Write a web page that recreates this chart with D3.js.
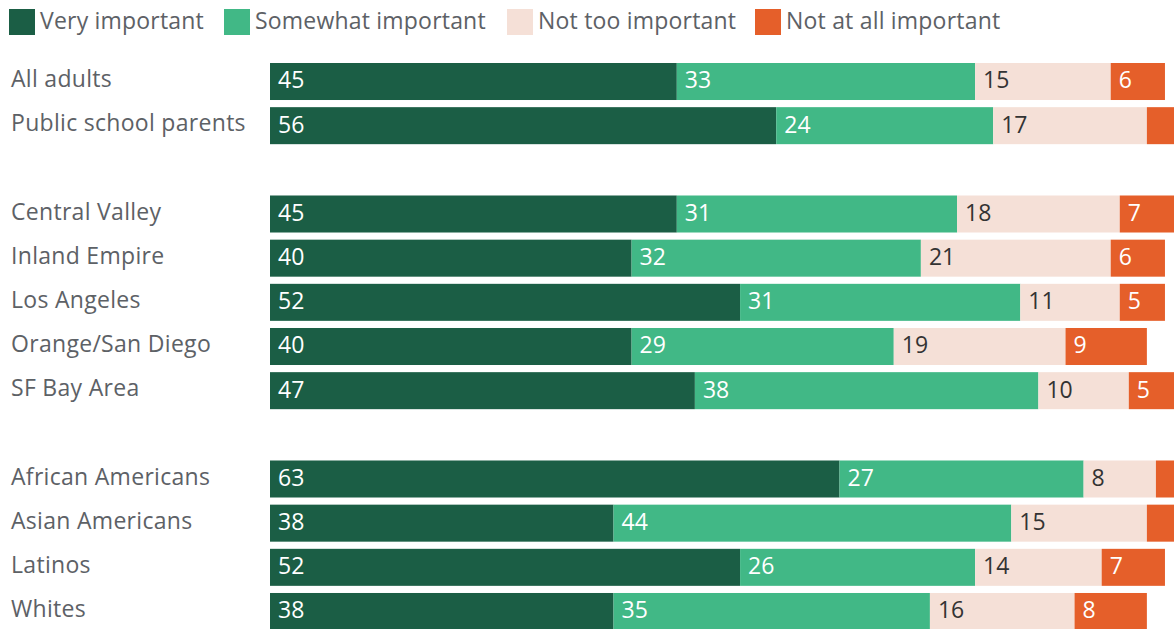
<!DOCTYPE html>
<html>
<head>
<meta charset="utf-8">
<script src="https://cdn.jsdelivr.net/npm/d3@7"></script>
<style>
  body { margin: 0; background: #fff; }
  svg { display: block; font-family: "Open Sans", Lato, sans-serif; }
  .row-label { fill: #5d6166; font-size: 23px; letter-spacing: 0.3px; }
  .legend-label { fill: #5d6166; font-size: 23px; letter-spacing: 0.2px; }
  .value-label { font-size: 23px; }
</style>
</head>
<body>
<svg id="svg" width="1174" height="629"></svg>
<script>
// categories (blank strings are the gaps between groups)
var categories = ["All adults", "Public school parents", "",
  "Central Valley", "Inland Empire", "Los Angeles", "Orange/San Diego", "SF Bay Area", "",
  "African Americans", "Asian Americans", "Latinos", "Whites"];

var seriesNames = ["Very important", "Somewhat important", "Not too important", "Not at all important"];

var veryImportant     = [45, 56, null, 45, 40, 52, 40, 47, null, 63, 38, 52, 38];
var somewhatImportant = [33, 24, null, 31, 32, 31, 29, 38, null, 27, 44, 26, 35];
var notTooImportant   = [15, 17, null, 18, 21, 11, 19, 10, null, 8, 15, 14, 16];
var notAtAllImportant = [6, 3, null, 7, 6, 5, 9, 5, null, 2, 3, 7, 8];

// labels only shown where the segment is wide enough
var showNotAtAll = [true, false, null, true, true, true, true, true, null, false, false, true, true];

var colors = ["#1b5e45", "#41b886", "#f5e0d7", "#e55f2a"];
var textColors = ["#fff", "#fff", "#333", "#fff"];

var svg = d3.select("#svg");
var w = 1174, h = 629;

var xScale = d3.scaleLinear().domain([0, 100]).range([270, 1174]);
var yScale = d3.scaleBand()
    .domain(d3.range(categories.length))
    .range([63, 630])
    .paddingInner(0.162)
    .paddingOuter(0);

var rows = [];
for (var i = 0; i < categories.length; i++) {
  if (categories[i] === "") continue;
  var vals = [veryImportant[i], somewhatImportant[i], notTooImportant[i], notAtAllImportant[i]];
  var start = 0;
  var segs = [];
  for (var k = 0; k < vals.length; k++) {
    segs.push({ row: i, series: k, x0: start, x1: start + vals[k], v: vals[k],
      show: k < 3 ? true : showNotAtAll[i] });
    start += vals[k];
  }
  rows.push({ i: i, name: categories[i], segs: segs });
}

// row labels
svg.selectAll("text.row-label")
  .data(rows)
  .enter()
  .append("text")
  .attr("class", "row-label")
  .attr("x", 11)
  .attr("y", function(d) { return yScale(d.i) + yScale.bandwidth() / 2; })
  .attr("dy", "0.25em")
  .text(function(d) { return d.name; });

var allSegs = [];
rows.forEach(function(r) { allSegs = allSegs.concat(r.segs); });

svg.selectAll("rect.seg")
  .data(allSegs)
  .enter()
  .append("rect")
  .attr("class", "seg")
  .attr("x", function(d) { return xScale(d.x0); })
  .attr("width", function(d) { return xScale(d.x1) - xScale(d.x0); })
  .attr("y", function(d) { return yScale(d.row); })
  .attr("height", yScale.bandwidth())
  .attr("fill", function(d) { return colors[d.series]; });

svg.selectAll("text.value-label")
  .data(allSegs.filter(function(d) { return d.show; }))
  .enter()
  .append("text")
  .attr("class", "value-label")
  .attr("x", function(d) { return xScale(d.x0) + 8; })
  .attr("y", function(d) { return yScale(d.row) + yScale.bandwidth() / 2; })
  .attr("dy", "0.3em")
  .attr("fill", function(d) { return textColors[d.series]; })
  .text(function(d) { return d.v; });

// legend
var legendX = [9, 224, 507, 755];
var legend = svg.selectAll("g.legend")
  .data(seriesNames)
  .enter()
  .append("g")
  .attr("class", "legend")
  .attr("transform", function(d, i) { return "translate(" + legendX[i] + ",9)"; });

legend.append("rect")
  .attr("width", 26)
  .attr("height", 26)
  .attr("fill", function(d, i) { return colors[i]; });

legend.append("text")
  .attr("class", "legend-label")
  .attr("x", 31)
  .attr("y", 13)
  .attr("dy", "0.3em")
  .text(function(d) { return d; });
</script>
</body>
</html>
